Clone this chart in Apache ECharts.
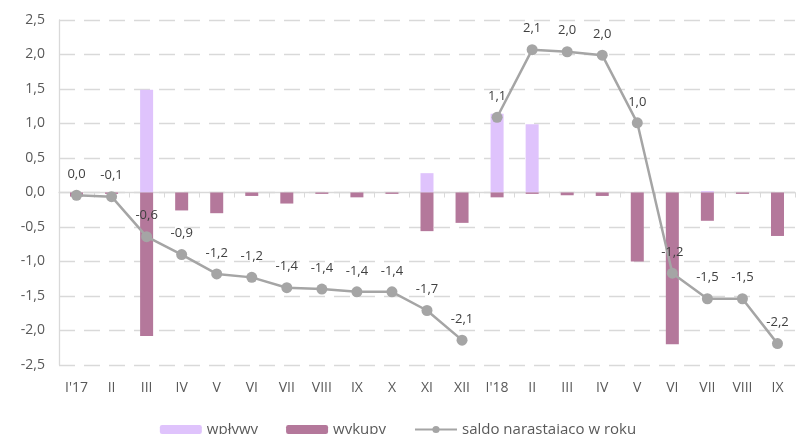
<!DOCTYPE html>
<html><head><meta charset="utf-8">
<script src="https://cdn.jsdelivr.net/npm/echarts@6/dist/echarts.min.js"></script>
<style>html,body{margin:0;padding:0;background:#fff}#c{width:796px;height:434px}</style>
</head><body><div id="c"></div>
<script>
var categories = ["I'17","II","III","IV","V","VI","VII","VIII","IX","X","XI","XII","I'18","II","III","IV","V","VI","VII","VIII","IX"];
var wplywy = [0,0,1.49,0,0,0,0,0,0,0,0.28,0,1.14,0.99,0,0,0,0,0.02,0,0];
var wykupy = [-0.06,-0.02,-2.08,-0.26,-0.30,-0.05,-0.16,-0.02,-0.07,-0.02,-0.56,-0.44,-0.07,-0.02,-0.04,-0.05,-1.0,-2.2,-0.41,-0.02,-0.63];
var saldo2017 = [-0.04,-0.06,-0.64,-0.90,-1.18,-1.23,-1.38,-1.40,-1.44,-1.44,-1.71,-2.14];
var saldo2018 = [1.09,2.07,2.04,1.99,1.01,-1.17,-1.54,-1.54,-2.19];

var n = categories.length;
var s1 = [], s2 = [];
for (var i = 0; i < n; i++) {
  s1.push(i < saldo2017.length ? saldo2017[i] : null);
  s2.push(i >= saldo2017.length ? saldo2018[i - saldo2017.length] : null);
}
function fmt(v){
  var s = Number(v).toFixed(1);
  if (s === '-0.0') s = '0.0';
  return s.replace('.', ',');
}
var FONT = 'Open Sans';
var lineName = 'saldo narastająco w roku';
function lineSeries(d){
  return {
    name: lineName, type: 'line', data: d, z: 5,
    symbol: 'circle', symbolSize: 11,
    itemStyle: {color: '#a5a5a5'},
    lineStyle: {color: '#a5a5a5', width: 2.5},
    label: {show: true, position: 'top', distance: 9, color: '#404040', fontFamily: FONT, fontSize: 13,
      formatter: function(p){ return fmt(p.value); }}
  };
}
var chart = echarts.init(document.getElementById('c'), null, {renderer: 'canvas'});
chart.setOption({
  animation: false,
  backgroundColor: '#fff',
  grid: {left: 59, right: 1, top: 20, bottom: 69, containLabel: false, outerBoundsMode: 'none'},
  legend: {
    data: ['wpływy', 'wykupy', lineName],
    left: 'center', top: 417, itemWidth: 42, itemHeight: 9, itemGap: 28,
    textStyle: {color: '#595959', fontFamily: FONT, fontSize: 15}
  },
  xAxis: [{
    type: 'category', data: categories, position: 'bottom',
    axisLine: {show: false, onZero: false},
    axisTick: {show: false},
    axisLabel: {margin: 16, color: '#595959', fontFamily: FONT, fontSize: 14, interval: 0},
    splitLine: {show: false}
  }, {
    type: 'category', data: categories, position: 'top',
    axisLine: {show: true, onZero: true, lineStyle: {color: '#d9d9d9', width: 1.3}},
    axisTick: {show: true, inside: true, length: 5, lineStyle: {color: '#d9d9d9'}},
    axisLabel: {show: false},
    splitLine: {show: false}
  }],
  yAxis: {
    type: 'value', min: -2.5, max: 2.5, interval: 0.5,
    axisLine: {show: true, lineStyle: {color: '#d9d9d9', width: 1.3}},
    axisTick: {show: false},
    axisLabel: {margin: 14, color: '#595959', fontFamily: FONT, fontSize: 14, formatter: fmt},
    splitLine: {show: true, lineStyle: {color: '#d9d9d9', width: 1.3, type: [16, 9]}}
  },
  series: [
    {name: 'wpływy', type: 'bar', stack: 'b', data: wplywy, barWidth: 13, itemStyle: {color: '#dfc3fc'}},
    {name: 'wykupy', type: 'bar', stack: 'b', data: wykupy, barWidth: 13, itemStyle: {color: '#b4789b'}},
    lineSeries(s1),
    lineSeries(s2)
  ]
});
</script></body></html>
